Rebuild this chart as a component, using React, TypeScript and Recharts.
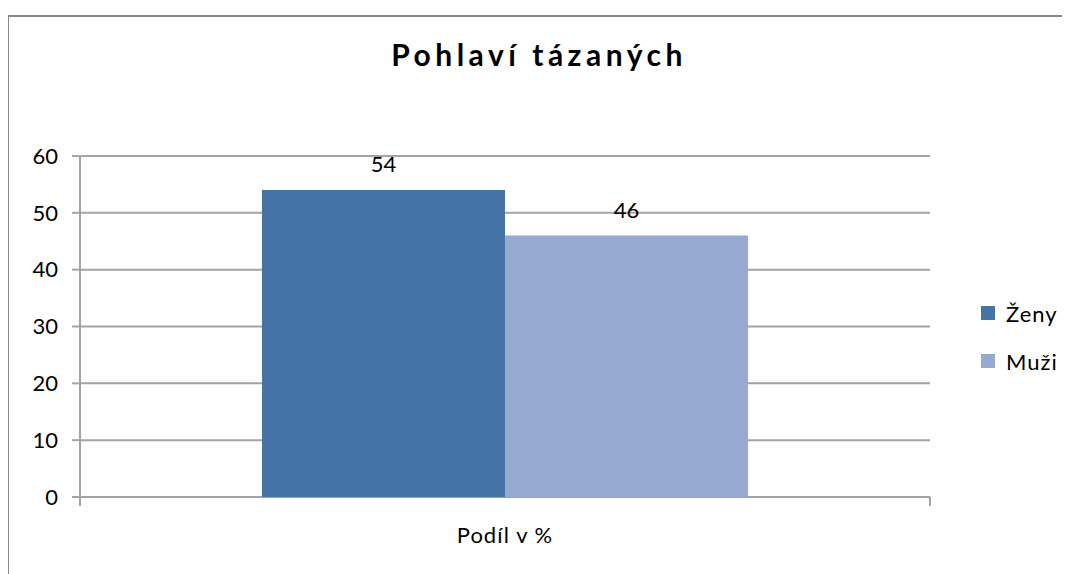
import React from 'react';
import {
  BarChart,
  Bar,
  XAxis,
  YAxis,
  CartesianGrid,
  Legend,
  LabelList
} from 'recharts';

const categories = ['Podíl v %'];
const seriesNames = ['Ženy', 'Muži'];
const zenyValues = [54];
const muziValues = [46];
const yTicks = [0, 10, 20, 30, 40, 50, 60];

const data = categories.map((name, i) => ({
  name,
  Ženy: zenyValues[i],
  Muži: muziValues[i]
}));

const FONT = 'Lato, "Open Sans", sans-serif';
const GRID = '#a3a3a3';

const CategoryTick = (props: any) => {
  const { x, y, payload, width } = props;
  const half = payload && payload.offset ? payload.offset : width / 2;
  return (
    <g>
      <line x1={x - half} y1={y} x2={x - half} y2={y + 9} stroke={GRID} strokeWidth={2} />
      <line x1={x + half} y1={y} x2={x + half} y2={y + 9} stroke={GRID} strokeWidth={2} />
      <text
        x={x}
        y={y + 46}
        textAnchor="middle"
        fontSize={22}
        fill="#000"
        fontFamily={FONT}
        letterSpacing={1}
      >
        {payload.value}
      </text>
    </g>
  );
};

// keep legend in series order (recharts sorts by name otherwise)
const renderLegend = (props: any) => {
  const items = [...(props.payload || [])].sort(
    (a: any, b: any) => seriesNames.indexOf(a.value) - seriesNames.indexOf(b.value)
  );
  return (
    <div style={{ fontFamily: FONT, fontSize: 22, color: '#000' }}>
      {items.map((entry: any) => (
        <div key={entry.value} style={{ display: 'flex', alignItems: 'center', height: 48 }}>
          <span
            style={{
              display: 'inline-block',
              width: 14,
              height: 14,
              background: entry.color,
              marginRight: 11
            }}
          />
          <span style={{ letterSpacing: 1 }}>{entry.value}</span>
        </div>
      ))}
    </div>
  );
};

const App = () => {
  return (
    <div style={{ position: 'relative', width: 1062, height: 566 }}>
      <div
        style={{
          position: 'absolute',
          left: -1,
          top: 7,
          width: 1063,
          height: 559,
          borderLeft: '2px solid #888',
          borderTop: '2px solid #888'
        }}
      />
      <div
        style={{
          position: 'absolute',
          left: 0,
          top: 28,
          width: 1062,
          textAlign: 'center',
          fontFamily: FONT,
          fontWeight: 'bold',
          fontSize: 30,
          letterSpacing: 4.5,
          color: '#000'
        }}
      >
        Pohlaví tázaných
      </div>
      <BarChart
        width={1062}
        height={566}
        data={data}
        margin={{ top: 148, right: 50, bottom: 27, left: 0 }}
        barGap={0}
        barSize={243}
        style={{ position: 'absolute', left: 0, top: 0 }}
      >
        <CartesianGrid vertical={false} stroke={GRID} strokeWidth={2} />
        <XAxis
          dataKey="name"
          height={50}
          axisLine={false}
          tickLine={false}
          tickSize={0}
          tickMargin={0}
          tick={<CategoryTick />}
        />
        <YAxis
          width={72}
          domain={[0, 60]}
          ticks={yTicks}
          interval={0}
          axisLine={{ stroke: GRID, strokeWidth: 2 }}
          tickLine={{ stroke: GRID, strokeWidth: 2 }}
          tickSize={8}
          tickMargin={14}
          tick={{ fontSize: 22, fill: '#000', fontFamily: FONT }}
        />
        <Legend
          layout="vertical"
          align="right"
          verticalAlign="top"
          content={renderLegend}
          wrapperStyle={{ left: 973, top: 281, width: 90 }}
        />
        <Bar dataKey="Ženy" fill="#4572A7" isAnimationActive={false}>
          <LabelList
            dataKey="Ženy"
            position="top"
            offset={18}
            fontSize={22}
            fill="#000"
            fontFamily={FONT}
          />
        </Bar>
        <Bar dataKey="Muži" fill="#95A9D1" isAnimationActive={false}>
          <LabelList
            dataKey="Muži"
            position="top"
            offset={18}
            fontSize={22}
            fill="#000"
            fontFamily={FONT}
          />
        </Bar>
      </BarChart>
    </div>
  );
};

export default App;
